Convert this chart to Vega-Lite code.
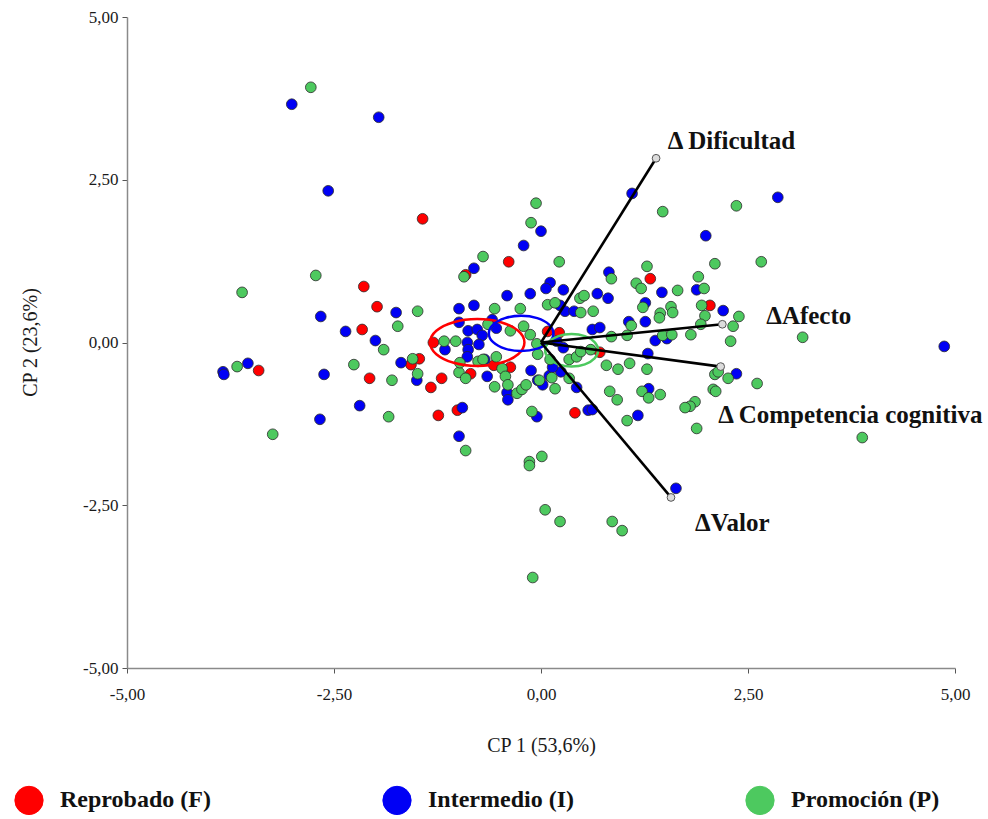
{
  "$schema": "https://vega.github.io/schema/vega-lite/v6.json",
  "width": 828,
  "height": 651,
  "autosize": {"type": "none"},
  "padding": {"left": 127, "top": 17, "right": 33, "bottom": 151},
  "background": "white",
  "config": {"font": "Liberation Serif", "view": {"stroke": null}},
  "datasets": {
    "pts": [
      {"g":"Reprobado (F)","x":-1.43,"y":1.90},{"g":"Reprobado (F)","x":-2.14,"y":0.86},{"g":"Reprobado (F)","x":-1.98,"y":0.55},{"g":"Reprobado (F)","x":-2.16,"y":0.20},
      {"g":"Reprobado (F)","x":-3.41,"y":-0.43},{"g":"Reprobado (F)","x":-2.07,"y":-0.55},{"g":"Reprobado (F)","x":-1.57,"y":-0.34},{"g":"Reprobado (F)","x":-1.47,"y":-0.25},
      {"g":"Reprobado (F)","x":-1.33,"y":-0.69},{"g":"Reprobado (F)","x":-1.20,"y":-0.55},{"g":"Reprobado (F)","x":-1.24,"y":-1.12},{"g":"Reprobado (F)","x":-1.01,"y":-1.04},
      {"g":"Reprobado (F)","x":-1.30,"y":0.00},{"g":"Reprobado (F)","x":-0.91,"y":1.04},{"g":"Reprobado (F)","x":-0.39,"y":1.24},{"g":"Reprobado (F)","x":0.08,"y":0.17},
      {"g":"Reprobado (F)","x":0.22,"y":0.15},{"g":"Reprobado (F)","x":1.32,"y":0.98},{"g":"Reprobado (F)","x":2.04,"y":0.57},{"g":"Reprobado (F)","x":0.41,"y":-1.08},
      {"g":"Reprobado (F)","x":-0.57,"y":-0.35},{"g":"Reprobado (F)","x":-0.37,"y":-0.38},{"g":"Reprobado (F)","x":-0.85,"y":-0.48},{"g":"Reprobado (F)","x":0.71,"y":-0.15},
      {"g":"Intermedio (I)","x":-3.01,"y":3.66},{"g":"Intermedio (I)","x":-1.96,"y":3.46},{"g":"Intermedio (I)","x":-2.57,"y":2.33},{"g":"Intermedio (I)","x":-2.66,"y":0.40},
      {"g":"Intermedio (I)","x":-2.36,"y":0.17},{"g":"Intermedio (I)","x":-2.00,"y":0.03},{"g":"Intermedio (I)","x":-3.84,"y":-0.45},{"g":"Intermedio (I)","x":-3.83,"y":-0.49},
      {"g":"Intermedio (I)","x":-3.54,"y":-0.32},{"g":"Intermedio (I)","x":-2.62,"y":-0.49},{"g":"Intermedio (I)","x":-2.19,"y":-0.97},{"g":"Intermedio (I)","x":-2.67,"y":-1.18},
      {"g":"Intermedio (I)","x":-1.75,"y":0.46},{"g":"Intermedio (I)","x":-1.69,"y":-0.31},{"g":"Intermedio (I)","x":-1.50,"y":-0.58},{"g":"Intermedio (I)","x":-0.95,"y":-1.00},
      {"g":"Intermedio (I)","x":-0.99,"y":-1.44},{"g":"Intermedio (I)","x":0.00,"y":1.71},{"g":"Intermedio (I)","x":-0.21,"y":1.49},{"g":"Intermedio (I)","x":-0.81,"y":1.14},
      {"g":"Intermedio (I)","x":0.11,"y":0.92},{"g":"Intermedio (I)","x":0.06,"y":0.83},{"g":"Intermedio (I)","x":0.27,"y":0.81},{"g":"Intermedio (I)","x":-0.41,"y":0.72},
      {"g":"Intermedio (I)","x":-0.13,"y":0.75},{"g":"Intermedio (I)","x":0.23,"y":0.57},{"g":"Intermedio (I)","x":0.29,"y":0.48},{"g":"Intermedio (I)","x":0.40,"y":0.48},
      {"g":"Intermedio (I)","x":-0.99,"y":0.52},{"g":"Intermedio (I)","x":-0.81,"y":0.57},{"g":"Intermedio (I)","x":-0.99,"y":0.31},{"g":"Intermedio (I)","x":-0.88,"y":0.18},
      {"g":"Intermedio (I)","x":-0.77,"y":0.20},{"g":"Intermedio (I)","x":-0.71,"y":0.11},{"g":"Intermedio (I)","x":-0.59,"y":0.35},{"g":"Intermedio (I)","x":-0.54,"y":0.22},
      {"g":"Intermedio (I)","x":-0.89,"y":0.00},{"g":"Intermedio (I)","x":-0.75,"y":-0.03},{"g":"Intermedio (I)","x":-0.88,"y":-0.11},{"g":"Intermedio (I)","x":-0.89,"y":-0.22},
      {"g":"Intermedio (I)","x":-1.16,"y":-0.11},{"g":"Intermedio (I)","x":-0.68,"y":-0.26},{"g":"Intermedio (I)","x":-0.65,"y":-0.52},{"g":"Intermedio (I)","x":-0.41,"y":-0.77},
      {"g":"Intermedio (I)","x":-0.40,"y":-0.88},{"g":"Intermedio (I)","x":-0.12,"y":-0.43},{"g":"Intermedio (I)","x":0.02,"y":-0.65},{"g":"Intermedio (I)","x":0.10,"y":-0.51},
      {"g":"Intermedio (I)","x":0.24,"y":-0.45},{"g":"Intermedio (I)","x":0.14,"y":-0.38},{"g":"Intermedio (I)","x":0.43,"y":-0.69},{"g":"Intermedio (I)","x":-0.05,"y":-1.14},
      {"g":"Intermedio (I)","x":0.57,"y":-1.04},{"g":"Intermedio (I)","x":0.19,"y":0.02},{"g":"Intermedio (I)","x":0.27,"y":-0.08},{"g":"Intermedio (I)","x":0.62,"y":0.20},
      {"g":"Intermedio (I)","x":0.71,"y":0.23},{"g":"Intermedio (I)","x":1.10,"y":2.29},{"g":"Intermedio (I)","x":0.82,"y":1.08},{"g":"Intermedio (I)","x":0.68,"y":0.75},
      {"g":"Intermedio (I)","x":0.81,"y":0.68},{"g":"Intermedio (I)","x":1.26,"y":0.61},{"g":"Intermedio (I)","x":1.46,"y":0.77},{"g":"Intermedio (I)","x":1.88,"y":0.81},
      {"g":"Intermedio (I)","x":1.99,"y":1.64},{"g":"Intermedio (I)","x":2.86,"y":2.23},{"g":"Intermedio (I)","x":2.20,"y":0.49},{"g":"Intermedio (I)","x":1.26,"y":0.32},
      {"g":"Intermedio (I)","x":1.06,"y":0.32},{"g":"Intermedio (I)","x":1.38,"y":0.03},{"g":"Intermedio (I)","x":1.52,"y":0.06},{"g":"Intermedio (I)","x":1.29,"y":-0.17},
      {"g":"Intermedio (I)","x":1.30,"y":-0.71},{"g":"Intermedio (I)","x":1.17,"y":-1.12},{"g":"Intermedio (I)","x":0.62,"y":-1.03},{"g":"Intermedio (I)","x":2.36,"y":-0.48},
      {"g":"Intermedio (I)","x":4.87,"y":-0.06},{"g":"Intermedio (I)","x":1.63,"y":-2.24},{"g":"Intermedio (I)","x":-0.04,"y":-0.58},
      {"g":"Promoción (P)","x":-2.78,"y":3.92},{"g":"Promoción (P)","x":-3.61,"y":0.77},{"g":"Promoción (P)","x":-2.72,"y":1.03},{"g":"Promoción (P)","x":-1.90,"y":-0.11},
      {"g":"Promoción (P)","x":-3.67,"y":-0.37},{"g":"Promoción (P)","x":-2.26,"y":-0.34},{"g":"Promoción (P)","x":-1.80,"y":-0.58},{"g":"Promoción (P)","x":-1.84,"y":-1.14},
      {"g":"Promoción (P)","x":-3.24,"y":-1.41},{"g":"Promoción (P)","x":-1.49,"y":0.48},{"g":"Promoción (P)","x":-1.73,"y":0.25},{"g":"Promoción (P)","x":-1.55,"y":-0.25},
      {"g":"Promoción (P)","x":-1.49,"y":-0.48},{"g":"Promoción (P)","x":-0.06,"y":2.14},{"g":"Promoción (P)","x":-0.12,"y":1.84},{"g":"Promoción (P)","x":-0.70,"y":1.32},
      {"g":"Promoción (P)","x":-0.93,"y":1.01},{"g":"Promoción (P)","x":0.22,"y":1.24},{"g":"Promoción (P)","x":0.47,"y":0.68},{"g":"Promoción (P)","x":0.52,"y":0.72},
      {"g":"Promoción (P)","x":0.08,"y":0.58},{"g":"Promoción (P)","x":0.17,"y":0.61},{"g":"Promoción (P)","x":0.48,"y":0.46},{"g":"Promoción (P)","x":0.63,"y":0.48},
      {"g":"Promoción (P)","x":-0.56,"y":0.52},{"g":"Promoción (P)","x":-0.25,"y":0.52},{"g":"Promoción (P)","x":-0.64,"y":0.28},{"g":"Promoción (P)","x":-0.37,"y":0.18},
      {"g":"Promoción (P)","x":-0.21,"y":0.25},{"g":"Promoción (P)","x":-0.13,"y":0.12},{"g":"Promoción (P)","x":-1.17,"y":0.02},{"g":"Promoción (P)","x":-1.03,"y":0.02},
      {"g":"Promoción (P)","x":-0.05,"y":-0.02},{"g":"Promoción (P)","x":1.47,"y":2.01},{"g":"Promoción (P)","x":1.28,"y":1.17},{"g":"Promoción (P)","x":1.15,"y":0.91},
      {"g":"Promoción (P)","x":1.21,"y":0.83},{"g":"Promoción (P)","x":1.65,"y":0.80},{"g":"Promoción (P)","x":1.90,"y":1.01},{"g":"Promoción (P)","x":0.85,"y":0.98},
      {"g":"Promoción (P)","x":1.23,"y":0.54},{"g":"Promoción (P)","x":1.57,"y":0.55},{"g":"Promoción (P)","x":1.59,"y":0.46},{"g":"Promoción (P)","x":2.36,"y":2.10},
      {"g":"Promoción (P)","x":2.10,"y":1.21},{"g":"Promoción (P)","x":2.66,"y":1.24},{"g":"Promoción (P)","x":1.97,"y":0.83},{"g":"Promoción (P)","x":1.94,"y":0.57},
      {"g":"Promoción (P)","x":1.98,"y":0.41},{"g":"Promoción (P)","x":2.39,"y":0.40},{"g":"Promoción (P)","x":2.32,"y":0.25},{"g":"Promoción (P)","x":1.93,"y":0.28},
      {"g":"Promoción (P)","x":1.81,"y":0.12},{"g":"Promoción (P)","x":2.29,"y":0.02},{"g":"Promoción (P)","x":3.16,"y":0.08},{"g":"Promoción (P)","x":1.44,"y":0.45},
      {"g":"Promoción (P)","x":1.43,"y":0.38},{"g":"Promoción (P)","x":1.09,"y":0.26},{"g":"Promoción (P)","x":0.85,"y":0.09},{"g":"Promoción (P)","x":1.04,"y":0.11},
      {"g":"Promoción (P)","x":1.47,"y":0.11},{"g":"Promoción (P)","x":1.58,"y":0.12},{"g":"Promoción (P)","x":2.10,"y":-0.49},{"g":"Promoción (P)","x":2.14,"y":-0.45},
      {"g":"Promoción (P)","x":2.26,"y":-0.55},{"g":"Promoción (P)","x":2.61,"y":-0.63},{"g":"Promoción (P)","x":2.08,"y":-0.72},{"g":"Promoción (P)","x":2.11,"y":-0.75},
      {"g":"Promoción (P)","x":1.86,"y":-0.91},{"g":"Promoción (P)","x":1.80,"y":-0.98},{"g":"Promoción (P)","x":1.74,"y":-1.00},{"g":"Promoción (P)","x":1.88,"y":-1.32},
      {"g":"Promoción (P)","x":3.88,"y":-1.46},{"g":"Promoción (P)","x":0.79,"y":-0.35},{"g":"Promoción (P)","x":0.93,"y":-0.41},{"g":"Promoción (P)","x":1.07,"y":-0.32},
      {"g":"Promoción (P)","x":1.28,"y":-0.41},{"g":"Promoción (P)","x":0.83,"y":-0.75},{"g":"Promoción (P)","x":0.92,"y":-0.88},{"g":"Promoción (P)","x":1.22,"y":-0.75},
      {"g":"Promoción (P)","x":1.30,"y":-0.85},{"g":"Promoción (P)","x":1.44,"y":-0.80},{"g":"Promoción (P)","x":1.04,"y":-1.20},{"g":"Promoción (P)","x":0.05,"y":-2.57},
      {"g":"Promoción (P)","x":0.23,"y":-2.75},{"g":"Promoción (P)","x":0.86,"y":-2.75},{"g":"Promoción (P)","x":0.98,"y":-2.89},{"g":"Promoción (P)","x":-0.10,"y":-3.61},
      {"g":"Promoción (P)","x":-0.91,"y":-1.66},{"g":"Promoción (P)","x":-0.14,"y":-1.83},{"g":"Promoción (P)","x":-0.14,"y":-1.89},{"g":"Promoción (P)","x":0.01,"y":-1.75},
      {"g":"Promoción (P)","x":-0.11,"y":-1.06},{"g":"Promoción (P)","x":-0.99,"y":-0.46},{"g":"Promoción (P)","x":-0.91,"y":-0.55},{"g":"Promoción (P)","x":-0.76,"y":-0.29},
      {"g":"Promoción (P)","x":-0.70,"y":-0.26},{"g":"Promoción (P)","x":-0.54,"y":-0.22},{"g":"Promoción (P)","x":-0.56,"y":-0.68},{"g":"Promoción (P)","x":-0.47,"y":-0.40},
      {"g":"Promoción (P)","x":-0.43,"y":-0.52},{"g":"Promoción (P)","x":-0.40,"y":-0.65},{"g":"Promoción (P)","x":-0.29,"y":-0.78},{"g":"Promoción (P)","x":-0.23,"y":-0.72},
      {"g":"Promoción (P)","x":-0.18,"y":-0.65},{"g":"Promoción (P)","x":-0.02,"y":-0.58},{"g":"Promoción (P)","x":0.13,"y":-0.54},{"g":"Promoción (P)","x":0.17,"y":-0.71},
      {"g":"Promoción (P)","x":0.34,"y":-0.55},{"g":"Promoción (P)","x":-0.04,"y":-0.18},{"g":"Promoción (P)","x":0.11,"y":-0.26},{"g":"Promoción (P)","x":0.34,"y":-0.26},
      {"g":"Promoción (P)","x":0.43,"y":-0.22},{"g":"Promoción (P)","x":-0.98,"y":-0.31},{"g":"Promoción (P)","x":0.48,"y":-0.14},{"g":"Promoción (P)","x":0.60,"y":-0.11}
    ],
    "ell": [
      {"g":"Reprobado (F)","o":0,"x":-0.20,"y":0.00},{"g":"Reprobado (F)","o":1,"x":-0.276,"y":0.18},{"g":"Reprobado (F)","o":2,"x":-0.485,"y":0.312},{"g":"Reprobado (F)","o":3,"x":-0.77,"y":0.36},
      {"g":"Reprobado (F)","o":4,"x":-1.055,"y":0.312},{"g":"Reprobado (F)","o":5,"x":-1.264,"y":0.18},{"g":"Reprobado (F)","o":6,"x":-1.34,"y":0.00},{"g":"Reprobado (F)","o":7,"x":-1.264,"y":-0.18},
      {"g":"Reprobado (F)","o":8,"x":-1.055,"y":-0.312},{"g":"Reprobado (F)","o":9,"x":-0.77,"y":-0.36},{"g":"Reprobado (F)","o":10,"x":-0.485,"y":-0.312},{"g":"Reprobado (F)","o":11,"x":-0.276,"y":-0.18},
      {"g":"Intermedio (I)","o":0,"x":0.15,"y":0.14},{"g":"Intermedio (I)","o":1,"x":0.098,"y":0.275},{"g":"Intermedio (I)","o":2,"x":-0.045,"y":0.374},{"g":"Intermedio (I)","o":3,"x":-0.24,"y":0.41},
      {"g":"Intermedio (I)","o":4,"x":-0.435,"y":0.374},{"g":"Intermedio (I)","o":5,"x":-0.578,"y":0.275},{"g":"Intermedio (I)","o":6,"x":-0.63,"y":0.14},{"g":"Intermedio (I)","o":7,"x":-0.578,"y":0.005},
      {"g":"Intermedio (I)","o":8,"x":-0.435,"y":-0.094},{"g":"Intermedio (I)","o":9,"x":-0.24,"y":-0.13},{"g":"Intermedio (I)","o":10,"x":-0.045,"y":-0.094},{"g":"Intermedio (I)","o":11,"x":0.098,"y":0.005},
      {"g":"Promoción (P)","o":0,"x":0.69,"y":-0.12},{"g":"Promoción (P)","o":1,"x":0.647,"y":0.005},{"g":"Promoción (P)","o":2,"x":0.53,"y":0.097},{"g":"Promoción (P)","o":3,"x":0.37,"y":0.13},
      {"g":"Promoción (P)","o":4,"x":0.21,"y":0.097},{"g":"Promoción (P)","o":5,"x":0.093,"y":0.005},{"g":"Promoción (P)","o":6,"x":0.05,"y":-0.12},{"g":"Promoción (P)","o":7,"x":0.093,"y":-0.245},
      {"g":"Promoción (P)","o":8,"x":0.21,"y":-0.337},{"g":"Promoción (P)","o":9,"x":0.37,"y":-0.37},{"g":"Promoción (P)","o":10,"x":0.53,"y":-0.337},{"g":"Promoción (P)","o":11,"x":0.647,"y":-0.245}
    ],
    "vec": [
      {"lab":"Δ Dificultad","x0":0,"y0":0,"x":1.39,"y":2.83,"lx":1.53,"ly":3.09},
      {"lab":"ΔAfecto","x0":0,"y0":0,"x":2.19,"y":0.28,"lx":2.72,"ly":0.40},
      {"lab":"Δ Competencia cognitiva","x0":0,"y0":0,"x":2.17,"y":-0.37,"lx":2.14,"ly":-1.12},
      {"lab":"ΔValor","x0":0,"y0":0,"x":1.57,"y":-2.38,"lx":1.86,"ly":-2.78}
    ]
  },
  "layer": [
    {
      "mark": {"type": "rule", "color": "#dedede", "strokeWidth": 1},
      "encoding": {"x": {"datum": 0, "type": "quantitative", "scale": {"domain": [-5, 5], "nice": false, "zero": false}}}
    },
    {
      "mark": {"type": "rule", "color": "#dedede", "strokeWidth": 1},
      "encoding": {"y": {"datum": 0, "type": "quantitative", "scale": {"domain": [-5, 5], "nice": false, "zero": false}}}
    },
    {
      "data": {"name": "pts"},
      "mark": {"type": "point", "filled": true, "size": 115, "stroke": "#2a2a2a", "strokeWidth": 0.8, "opacity": 1},
      "encoding": {
        "x": {
          "field": "x", "type": "quantitative",
          "scale": {"domain": [-5, 5], "nice": false, "zero": false},
          "title": "CP 1 (53,6%)",
          "axis": {
            "values": [-5, -2.5, 0, 2.5, 5],
            "labelExpr": "replace(replace(format(datum.value, '.2f'), '.', ','), '−', '-')",
            "grid": false, "labelFlush": false,
            "domainColor": "#8a8a8a", "domainWidth": 1.5,
            "tickColor": "#555", "tickSize": 5, "tickWidth": 1,
            "labelFontSize": 17, "labelColor": "#1a1a1a", "labelPadding": 13, "labelFont": "Liberation Serif",
            "titleFontSize": 20, "titleFontWeight": "normal", "titleColor": "#1a1a1a", "titleFont": "Liberation Serif",
            "titleY": 77, "titleBaseline": "middle"
          }
        },
        "y": {
          "field": "y", "type": "quantitative",
          "scale": {"domain": [-5, 5], "nice": false, "zero": false},
          "title": "CP 2 (23,6%)",
          "axis": {
            "values": [-5, -2.5, 0, 2.5, 5],
            "labelExpr": "replace(replace(format(datum.value, '.2f'), '.', ','), '−', '-')",
            "grid": false, "labelFlush": false,
            "domainColor": "#8a8a8a", "domainWidth": 1.5,
            "tickColor": "#555", "tickSize": 5, "tickWidth": 1,
            "labelFontSize": 17, "labelColor": "#1a1a1a", "labelPadding": 4, "labelFont": "Liberation Serif",
            "titleFontSize": 20, "titleFontWeight": "normal", "titleColor": "#1a1a1a", "titleFont": "Liberation Serif",
            "titleX": -97, "titleY": 325, "titleAngle": -90, "titleBaseline": "middle"
          }
        },
        "fill": {
          "field": "g", "type": "nominal",
          "scale": {"domain": ["Reprobado (F)", "Intermedio (I)", "Promoción (P)"], "range": ["#ff0000", "#0000f5", "#4dc95f"]},
          "legend": {
            "title": null, "orient": "none", "legendX": -113, "legendY": 768,
            "direction": "horizontal", "columns": 3, "columnPadding": 169,
            "symbolType": "circle", "symbolSize": 800, "symbolStrokeColor": "#333", "symbolStrokeWidth": 1, "symbolOpacity": 1,
            "labelFontSize": 24, "labelFontWeight": "bold", "labelFont": "Liberation Serif", "labelColor": "#111", "labelOffset": 16, "labelLimit": 300
          }
        }
      }
    },
    {
      "data": {"name": "ell"},
      "mark": {"type": "line", "interpolate": "cardinal-closed", "strokeWidth": 2.5},
      "encoding": {
        "x": {"field": "x", "type": "quantitative", "scale": {"domain": [-5, 5], "nice": false, "zero": false}},
        "y": {"field": "y", "type": "quantitative", "scale": {"domain": [-5, 5], "nice": false, "zero": false}},
        "stroke": {
          "field": "g", "type": "nominal",
          "scale": {"domain": ["Reprobado (F)", "Intermedio (I)", "Promoción (P)"], "range": ["#ff0000", "#0000f5", "#4dc95f"]},
          "legend": null
        },
        "order": {"field": "o", "type": "quantitative"}
      }
    },
    {
      "data": {"name": "vec"},
      "mark": {"type": "rule", "color": "#000", "strokeWidth": 2.6},
      "encoding": {
        "x": {"field": "x0", "type": "quantitative", "scale": {"domain": [-5, 5], "nice": false, "zero": false}},
        "y": {"field": "y0", "type": "quantitative", "scale": {"domain": [-5, 5], "nice": false, "zero": false}},
        "x2": {"field": "x"},
        "y2": {"field": "y"}
      }
    },
    {
      "data": {"name": "vec"},
      "mark": {"type": "point", "filled": true, "fill": "#dcdcdc", "stroke": "#555", "strokeWidth": 1, "size": 60, "opacity": 1},
      "encoding": {
        "x": {"field": "x", "type": "quantitative", "scale": {"domain": [-5, 5], "nice": false, "zero": false}},
        "y": {"field": "y", "type": "quantitative", "scale": {"domain": [-5, 5], "nice": false, "zero": false}}
      }
    },
    {
      "data": {"name": "vec"},
      "mark": {"type": "text", "align": "left", "baseline": "middle", "font": "Liberation Serif", "fontSize": 25, "fontWeight": "bold", "color": "#111"},
      "encoding": {
        "x": {"field": "lx", "type": "quantitative", "scale": {"domain": [-5, 5], "nice": false, "zero": false}},
        "y": {"field": "ly", "type": "quantitative", "scale": {"domain": [-5, 5], "nice": false, "zero": false}},
        "text": {"field": "lab"}
      }
    }
  ]
}
